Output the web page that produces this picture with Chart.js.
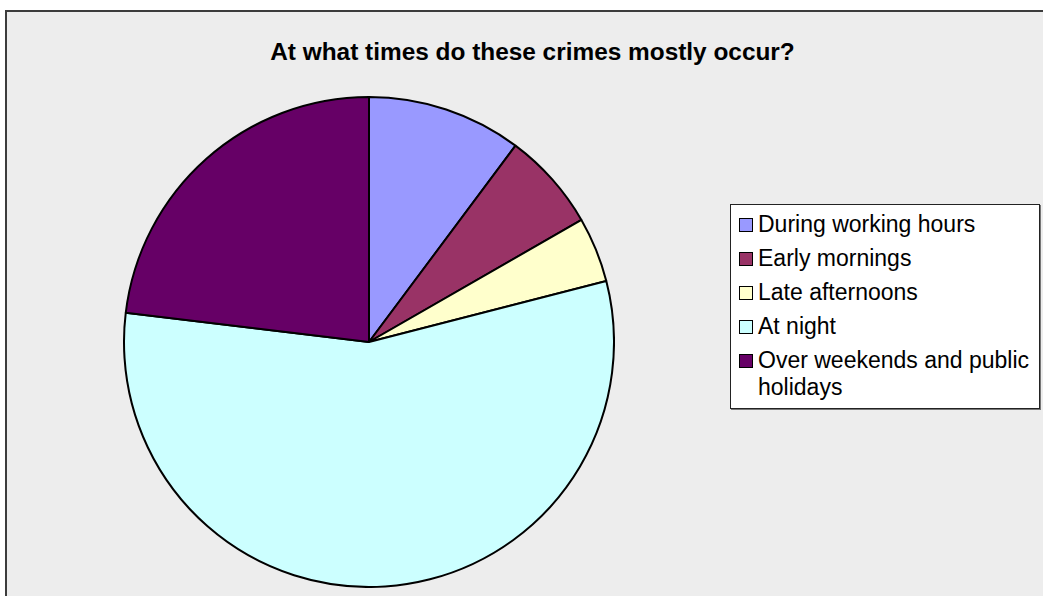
<!DOCTYPE html>
<html>

<head>
    <title>Crime times pie</title>
    <script src="https://cdn.jsdelivr.net/npm/chart.js"></script>
</head>

<style>
    body {
        margin: 0;
        width: 1043px;
        height: 596px;
        overflow: hidden;
        background: white;
        font-family: Arial, "Liberation Sans", sans-serif;
    }

    #frame {
        position: absolute;
        left: 5px;
        top: 10px;
        width: 1100px;
        height: 650px;
        background: #ededed;
        border-left: 2px solid #3c3c3c;
        border-top: 2px solid #3c3c3c;
    }

    #title {
        position: absolute;
        left: 0;
        top: 39.5px;
        width: 1065px;
        text-align: center;
        font-weight: bold;
        font-size: 24.4px;
        line-height: 24.4px;
        color: #000;
    }

    #pieBox {
        position: absolute;
        left: 123px;
        top: 96px;
        width: 492px;
        height: 492px;
    }

    #legend {
        position: absolute;
        left: 730px;
        top: 204px;
        width: 310px;
        height: 205px;
        box-sizing: border-box;
        background: white;
        border: 1px solid #222;
        box-shadow: 1px 1px 0 #777;
        padding: 5.5px 6px 0 27px;
        font-size: 23px;
        line-height: 27px;
        color: #000;
    }

    .item {
        position: relative;
        margin-bottom: 7px;
    }

    .swatch {
        position: absolute;
        left: -19px;
        top: 7px;
        width: 12px;
        height: 12px;
        border: 1px solid #000;
    }
</style>

<body>
    <div id="frame"></div>
    <div id="title">At what times do these crimes mostly occur?</div>

    <!-- The pie -->
    <div id="pieBox"><canvas id="pieChart"></canvas></div>

    <!-- Legend built from the same arrays -->
    <div id="legend"></div>

    <script>
        const categories = ["During working hours", "Early mornings", "Late afternoons", "At night", "Over weekends and public holidays"];
        const shares = [10.2, 6.5, 4.3, 55.9, 23.1];
        const sliceColors = ["#9999ff", "#993366", "#ffffcc", "#ccffff", "#660066"];

        // Legend entries
        const legend = document.getElementById("legend");
        for (let i = 0; i < categories.length; i++) {
            const item = document.createElement("div");
            item.className = "item";
            const sw = document.createElement("span");
            sw.className = "swatch";
            sw.style.background = sliceColors[i];
            item.appendChild(sw);
            item.appendChild(document.createTextNode(categories[i]));
            legend.appendChild(item);
        }

        const ctx = document.getElementById("pieChart").getContext("2d");

        const chart = new Chart(ctx, {
            type: "pie",
            data: {
                labels: categories,
                datasets: [{
                    data: shares,
                    backgroundColor: sliceColors,
                    borderColor: "#000",
                    borderWidth: 2
                }]
            },
            options: {
                responsive: true,
                maintainAspectRatio: false,
                animation: false,
                layout: { padding: 0 },
                plugins: {
                    legend: { display: false },
                    tooltip: { enabled: false },
                    title: { display: false }
                }
            }
        });
    </script>
</body>

</html>
